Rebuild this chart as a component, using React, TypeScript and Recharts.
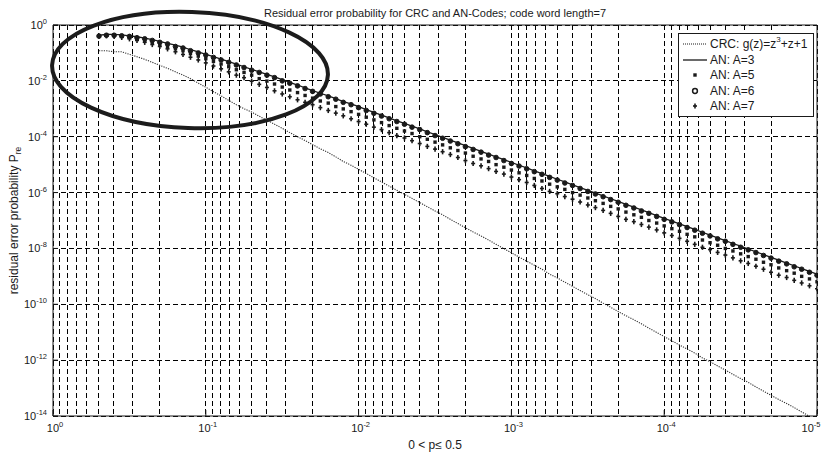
import React from "react";
import {
  LineChart,
  Line,
  XAxis,
  YAxis,
  CartesianGrid,
  ReferenceLine,
  Legend,
  Label,
  Customized,
} from "recharts";

const FONT = '"Liberation Sans", Arial, Helvetica, sans-serif';
const INK = "#1a1a1a";

// bit error probability p (x axis, sampled evenly on the log axis)
const pValues = [
  0.5, 0.447, 0.398, 0.355, 0.316, 0.282, 0.251, 0.224, 0.2, 0.178, 0.158, 0.141, 0.126, 0.112,
  0.1, 0.0891, 0.0794, 0.0708, 0.0631, 0.0562, 0.0501, 0.0447, 0.0398, 0.0355, 0.0316, 0.0282, 0.0251, 0.0224, 0.02, 0.0178, 0.0158, 0.0141, 0.0126, 0.0112,
  0.01, 0.00891, 0.00794, 0.00708, 0.00631, 0.00562, 0.00501, 0.00447, 0.00398, 0.00355, 0.00316, 0.00282, 0.00251, 0.00224, 0.002, 0.00178, 0.00158, 0.00141, 0.00126, 0.00112,
  1e-3, 8.91e-4, 7.94e-4, 7.08e-4, 6.31e-4, 5.62e-4, 5.01e-4, 4.47e-4, 3.98e-4, 3.55e-4, 3.16e-4, 2.82e-4, 2.51e-4, 2.24e-4, 2e-4, 1.78e-4, 1.58e-4, 1.41e-4, 1.26e-4, 1.12e-4,
  1e-4, 8.91e-5, 7.94e-5, 7.08e-5, 6.31e-5, 5.62e-5, 5.01e-5, 4.47e-5, 3.98e-5, 3.55e-5, 3.16e-5, 2.82e-5, 2.51e-5, 2.24e-5, 2e-5, 1.78e-5, 1.58e-5, 1.41e-5, 1.26e-5, 1.12e-5,
  1e-5,
];

// CRC g(z)=z^3+z+1
const crcValues = [
  0.12, 0.12, 0.11, 0.11, 8.9e-2, 7.3e-2, 5.9e-2, 4.6e-2, 3.6e-2, 2.8e-2, 2.1e-2, 1.6e-2, 1.2e-2, 8.3e-3,
  5.9e-3, 4.1e-3, 2.9e-3, 2.0e-3, 1.4e-3, 1.0e-3, 7.6e-4, 5.4e-4, 3.9e-4, 2.8e-4, 2.0e-4, 1.4e-4, 1.0e-4, 7.3e-5, 5.2e-5, 3.7e-5, 2.7e-5, 1.9e-5, 1.3e-5, 9.5e-6,
  6.8e-6, 4.8e-6, 3.4e-6, 2.4e-6, 1.7e-6, 1.2e-6, 8.7e-7, 6.2e-7, 4.4e-7, 3.1e-7, 2.2e-7, 1.6e-7, 1.1e-7, 7.8e-8, 5.5e-8, 3.9e-8, 2.8e-8, 2.0e-8, 1.4e-8, 9.8e-9,
  7.0e-9, 4.9e-9, 3.5e-9, 2.5e-9, 1.8e-9, 1.2e-9, 8.8e-10, 6.2e-10, 4.4e-10, 3.1e-10, 2.2e-10, 1.6e-10, 1.1e-10, 7.8e-11, 5.5e-11, 3.9e-11, 2.8e-11, 2.0e-11, 1.4e-11, 9.8e-12,
  7.0e-12, 4.9e-12, 3.5e-12, 2.5e-12, 1.8e-12, 1.2e-12, 8.8e-13, 6.2e-13, 4.4e-13, 3.1e-13, 2.2e-13, 1.6e-13, 1.1e-13, 7.8e-14, 5.5e-14, 3.9e-14, 2.8e-14, 2.0e-14, 1.4e-14, 9.8e-15,
  7.0e-15,
];

// AN: A=3 (solid line)
const anA3 = [
  0.43, 0.46, 0.46, 0.44, 0.41, 0.38, 0.34, 0.30, 0.26, 0.22, 0.19, 0.16, 0.13, 0.11,
  8.9e-2, 7.4e-2, 6.0e-2, 4.9e-2, 4.0e-2, 3.2e-2, 2.6e-2, 2.1e-2, 1.7e-2, 1.4e-2, 1.1e-2, 8.8e-3, 7.1e-3, 5.6e-3, 4.5e-3, 3.6e-3, 2.9e-3, 2.3e-3, 1.8e-3, 1.5e-3,
  1.2e-3, 9.3e-4, 7.4e-4, 5.9e-4, 4.7e-4, 3.7e-4, 3.0e-4, 2.4e-4, 1.9e-4, 1.5e-4, 1.2e-4, 9.5e-5, 7.5e-5, 6.0e-5, 4.8e-5, 3.8e-5, 3.0e-5, 2.4e-5, 1.9e-5, 1.5e-5,
  1.2e-5, 9.5e-6, 7.6e-6, 6.0e-6, 4.8e-6, 3.8e-6, 3.0e-6, 2.4e-6, 1.9e-6, 1.5e-6, 1.2e-6, 9.5e-7, 7.6e-7, 6.0e-7, 4.8e-7, 3.8e-7, 3.0e-7, 2.4e-7, 1.9e-7, 1.5e-7,
  1.2e-7, 9.5e-8, 7.6e-8, 6.0e-8, 4.8e-8, 3.8e-8, 3.0e-8, 2.4e-8, 1.9e-8, 1.5e-8, 1.2e-8, 9.5e-9, 7.6e-9, 6.0e-9, 4.8e-9, 3.8e-9, 3.0e-9, 2.4e-9, 1.9e-9, 1.5e-9,
  1.2e-9,
];

// AN: A=5 (squares)
const anA5 = [
  0.41, 0.43, 0.42, 0.40, 0.36, 0.32, 0.28, 0.24, 0.20, 0.17, 0.14, 0.12, 9.5e-2, 7.7e-2,
  6.2e-2, 5.0e-2, 4.0e-2, 3.2e-2, 2.5e-2, 2.0e-2, 1.6e-2, 1.2e-2, 9.8e-3, 7.7e-3, 6.0e-3, 4.7e-3, 3.8e-3, 3.0e-3, 2.4e-3, 1.9e-3, 1.6e-3, 1.2e-3, 9.9e-4, 7.9e-4,
  6.3e-4, 5.0e-4, 4.0e-4, 3.2e-4, 2.5e-4, 2.0e-4, 1.6e-4, 1.3e-4, 1.0e-4, 8.1e-5, 6.4e-5, 5.1e-5, 4.0e-5, 3.2e-5, 2.6e-5, 2.0e-5, 1.6e-5, 1.3e-5, 1.0e-5, 8.1e-6,
  6.4e-6, 5.1e-6, 4.1e-6, 3.2e-6, 2.6e-6, 2.0e-6, 1.6e-6, 1.3e-6, 1.0e-6, 8.1e-7, 6.4e-7, 5.1e-7, 4.1e-7, 3.2e-7, 2.6e-7, 2.0e-7, 1.6e-7, 1.3e-7, 1.0e-7, 8.1e-8,
  6.4e-8, 5.1e-8, 4.1e-8, 3.2e-8, 2.6e-8, 2.0e-8, 1.6e-8, 1.3e-8, 1.0e-8, 8.1e-9, 6.4e-9, 5.1e-9, 4.1e-9, 3.2e-9, 2.6e-9, 2.0e-9, 1.6e-9, 1.3e-9, 1.0e-9, 8.1e-10,
  6.4e-10,
];

// AN: A=6 (circles)
const anA6 = [
  0.40, 0.43, 0.43, 0.41, 0.39, 0.35, 0.32, 0.28, 0.24, 0.21, 0.17, 0.15, 0.12, 0.10,
  8.4e-2, 6.9e-2, 5.6e-2, 4.6e-2, 3.7e-2, 3.0e-2, 2.4e-2, 2.0e-2, 1.6e-2, 1.3e-2, 1.0e-2, 8.2e-3, 6.6e-3, 5.3e-3, 4.2e-3, 3.4e-3, 2.7e-3, 2.2e-3, 1.7e-3, 1.4e-3,
  1.1e-3, 8.7e-4, 6.9e-4, 5.5e-4, 4.4e-4, 3.5e-4, 2.8e-4, 2.2e-4, 1.8e-4, 1.4e-4, 1.1e-4, 8.8e-5, 7.0e-5, 5.6e-5, 4.4e-5, 3.5e-5, 2.8e-5, 2.2e-5, 1.8e-5, 1.4e-5,
  1.1e-5, 8.9e-6, 7.1e-6, 5.6e-6, 4.5e-6, 3.5e-6, 2.8e-6, 2.2e-6, 1.8e-6, 1.4e-6, 1.1e-6, 8.9e-7, 7.1e-7, 5.6e-7, 4.5e-7, 3.5e-7, 2.8e-7, 2.2e-7, 1.8e-7, 1.4e-7,
  1.1e-7, 8.9e-8, 7.1e-8, 5.6e-8, 4.5e-8, 3.5e-8, 2.8e-8, 2.2e-8, 1.8e-8, 1.4e-8, 1.1e-8, 8.9e-9, 7.1e-9, 5.6e-9, 4.5e-9, 3.5e-9, 2.8e-9, 2.2e-9, 1.8e-9, 1.4e-9,
  1.1e-9,
];

// AN: A=7 (plus)
const anA7 = [
  0.40, 0.41, 0.39, 0.36, 0.32, 0.28, 0.24, 0.20, 0.17, 0.14, 0.11, 8.8e-2, 7.0e-2, 5.6e-2,
  4.4e-2, 3.4e-2, 2.7e-2, 2.1e-2, 1.6e-2, 1.3e-2, 9.7e-3, 7.5e-3, 5.8e-3, 4.4e-3, 3.4e-3, 2.7e-3, 2.1e-3, 1.7e-3, 1.4e-3, 1.1e-3, 8.7e-4, 7.0e-4, 5.6e-4, 4.4e-4,
  3.5e-4, 2.8e-4, 2.2e-4, 1.8e-4, 1.4e-4, 1.1e-4, 9.0e-5, 7.2e-5, 5.7e-5, 4.5e-5, 3.6e-5, 2.9e-5, 2.3e-5, 1.8e-5, 1.4e-5, 1.1e-5, 9.1e-6, 7.2e-6, 5.7e-6, 4.6e-6,
  3.6e-6, 2.9e-6, 2.3e-6, 1.8e-6, 1.4e-6, 1.1e-6, 9.1e-7, 7.2e-7, 5.8e-7, 4.6e-7, 3.6e-7, 2.9e-7, 2.3e-7, 1.8e-7, 1.4e-7, 1.1e-7, 9.1e-8, 7.2e-8, 5.8e-8, 4.6e-8,
  3.6e-8, 2.9e-8, 2.3e-8, 1.8e-8, 1.4e-8, 1.1e-8, 9.1e-9, 7.2e-9, 5.8e-9, 4.6e-9, 3.6e-9, 2.9e-9, 2.3e-9, 1.8e-9, 1.4e-9, 1.1e-9, 9.1e-10, 7.2e-10, 5.8e-10, 4.6e-10,
  3.6e-10,
];

// x grid: every 1..9 x 10^k between 1 and 1e-5
const xGridTicks = [
  1, 0.9, 0.8, 0.7, 0.6, 0.5, 0.4, 0.3, 0.2,
  0.1, 0.09, 0.08, 0.07, 0.06, 0.05, 0.04, 0.03, 0.02,
  0.01, 0.009, 0.008, 0.007, 0.006, 0.005, 0.004, 0.003, 0.002,
  1e-3, 9e-4, 8e-4, 7e-4, 6e-4, 5e-4, 4e-4, 3e-4, 2e-4,
  1e-4, 9e-5, 8e-5, 7e-5, 6e-5, 5e-5, 4e-5, 3e-5, 2e-5,
  1e-5,
];
const xMajorTicks = [1, 0.1, 0.01, 1e-3, 1e-4, 1e-5];
const xMajorLabels = ["0", "-1", "-2", "-3", "-4", "-5"];

const yTicks = [1, 1e-2, 1e-4, 1e-6, 1e-8, 1e-10, 1e-12, 1e-14];
const yTickLabels = ["0", "-2", "-4", "-6", "-8", "-10", "-12", "-14"];

const tableData = pValues.map((p, i) => ({
  p,
  crc: crcValues[i],
  a3: anA3[i],
  a5: anA5[i],
  a6: anA6[i],
  a7: anA7[i],
}));

const majorIndex = (v: number) =>
  xMajorTicks.findIndex((m) => Math.abs(v - m) < m * 1e-6);

function XTick(props: any) {
  const { x, y, payload } = props;
  const idx = majorIndex(payload.value);
  if (idx < 0) return <g />;
  // last label sits on the right edge; nudge it so it stays inside the page
  const shift = idx === xMajorTicks.length - 1 ? -6 : 2;
  return (
    <g>
      <line x1={x} x2={x} y1={y - 2} y2={y - 8} stroke={INK} strokeWidth={1} />
      <text x={x + shift} y={y + 14} textAnchor="middle" fontFamily={FONT} fontSize={11} fill={INK}>
        10
        <tspan dy={-5} fontSize={7.5}>
          {xMajorLabels[idx]}
        </tspan>
      </text>
    </g>
  );
}

function YTick(props: any) {
  const { x, y, payload } = props;
  const idx = yTicks.findIndex((t) => Math.abs(payload.value - t) < t * 1e-6);
  if (idx < 0) return <g />;
  return (
    <g>
      <line x1={x + 6} x2={x + 11} y1={y} y2={y} stroke={INK} strokeWidth={1} />
      <text x={x} y={y + 4} textAnchor="end" fontFamily={FONT} fontSize={11} fill={INK}>
        10
        <tspan dy={-5} fontSize={7.5}>
          {yTickLabels[idx]}
        </tspan>
      </text>
    </g>
  );
}

function SquareDot(props: any) {
  const { cx, cy } = props;
  if (cx == null || cy == null) return <g />;
  return <rect x={cx - 1.7} y={cy - 1.7} width={3.4} height={3.4} fill={INK} />;
}

function CircleDot(props: any) {
  const { cx, cy } = props;
  if (cx == null || cy == null) return <g />;
  return <circle cx={cx} cy={cy} r={2.3} fill={INK} stroke={INK} strokeWidth={1} />;
}

function PlusDot(props: any) {
  const { cx, cy } = props;
  if (cx == null || cy == null) return <g />;
  return (
    <g stroke={INK} strokeWidth={1.6}>
      <line x1={cx - 2} x2={cx + 2} y1={cy} y2={cy} />
      <line x1={cx} x2={cx} y1={cy - 2.6} y2={cy + 2.6} />
    </g>
  );
}

const legendRows = [
  { key: "crc", label: "CRC" },
  { key: "a3", label: "AN: A=3" },
  { key: "a5", label: "AN: A=5" },
  { key: "a6", label: "AN: A=6" },
  { key: "a7", label: "AN: A=7" },
];

function LegendSample({ kind }: { kind: string }) {
  return (
    <svg width={26} height={14} style={{ display: "block" }}>
      {kind === "crc" && (
        <line x1={1} x2={25} y1={7} y2={7} stroke={INK} strokeWidth={1.2} strokeDasharray="1 1" />
      )}
      {kind === "a3" && <line x1={1} x2={25} y1={7} y2={7} stroke={INK} strokeWidth={1.3} />}
      {kind === "a5" && <rect x={11.3} y={5.3} width={3.4} height={3.4} fill={INK} />}
      {kind === "a6" && <circle cx={13} cy={7} r={2.4} fill="none" stroke={INK} strokeWidth={1.5} />}
      {kind === "a7" && (
        <g stroke={INK} strokeWidth={1.6}>
          <line x1={11} x2={15} y1={7} y2={7} />
          <line x1={13} x2={13} y1={4.4} y2={9.6} />
        </g>
      )}
    </svg>
  );
}

function LegendBox() {
  return (
    <div
      style={{
        position: "relative",
        width: 136,
        height: 84,
        boxSizing: "border-box",
        border: `1px solid ${INK}`,
        background: "#fff",
        fontFamily: FONT,
        fontSize: 12,
        color: INK,
      }}
    >
      {legendRows.map((r, i) => (
        <div
          key={r.key}
          style={{
            position: "absolute",
            left: 3,
            top: 2 + i * 15.6,
            height: 16,
            display: "flex",
            alignItems: "center",
            whiteSpace: "nowrap",
          }}
        >
          <LegendSample kind={r.key} />
          <span style={{ marginLeft: 2 }}>
            {r.key === "crc" ? (
              <>
                CRC: g(z)=z<sup style={{ fontSize: 8, verticalAlign: "6px", lineHeight: 0 }}>3</sup>+z+1
              </>
            ) : (
              r.label
            )}
          </span>
        </div>
      ))}
    </div>
  );
}

function Annotations() {
  return (
    <g>
      <text x={435} y={17} textAnchor="middle" fontFamily={FONT} fontSize={11} fill={INK}>
        Residual error probability for CRC and AN-Codes; code word length=7
      </text>
      <ellipse
        cx={190}
        cy={70}
        rx={138}
        ry={58}
        transform="rotate(2 190 70)"
        fill="none"
        stroke="#1c1c1c"
        strokeWidth={4}
      />
    </g>
  );
}

function YLabel(props: any) {
  const { viewBox } = props;
  const cx = viewBox.x + 6;
  const cy = viewBox.y + viewBox.height / 2;
  return (
    <text
      x={cx}
      y={cy}
      transform={`rotate(-90 ${cx} ${cy})`}
      textAnchor="middle"
      dominantBaseline="central"
      fontFamily={FONT}
      fontSize={12}
      fill={INK}
    >
      residual error probability P
      <tspan dy={4} fontSize={8.5}>
        re
      </tspan>
    </text>
  );
}

function XLabel(props: any) {
  const { viewBox } = props;
  return (
    <text
      x={viewBox.x + viewBox.width / 2}
      y={449}
      textAnchor="middle"
      fontFamily={FONT}
      fontSize={12}
      fill={INK}
    >
      0 &lt; p≤ 0.5
    </text>
  );
}

export default function App() {
  return (
    <div style={{ position: "absolute", left: 0, top: 0, width: 825, height: 452, background: "#fff" }}>
      <LineChart
        width={825}
        height={452}
        data={tableData}
        margin={{ top: 25, right: 8, bottom: 12, left: 8 }}
      >
        <CartesianGrid stroke="#000" strokeWidth={1} strokeDasharray="5 3" shapeRendering="crispEdges" />
        <XAxis
          dataKey="p"
          type="number"
          scale="log"
          domain={[1e-5, 1]}
          reversed
          allowDataOverflow
          ticks={xGridTicks}
          interval={0}
          tick={<XTick />}
          tickLine={false}
          tickSize={0}
          tickMargin={2}
          height={24}
          axisLine={{ stroke: INK, strokeWidth: 1 }}
        >
          <Label content={<XLabel />} />
        </XAxis>
        <YAxis
          type="number"
          scale="log"
          domain={[1e-14, 1]}
          allowDataOverflow
          ticks={yTicks}
          interval={0}
          tick={<YTick />}
          tickLine={false}
          tickSize={0}
          tickMargin={6}
          width={45}
          axisLine={{ stroke: INK, strokeWidth: 1 }}
        >
          <Label content={<YLabel />} />
        </YAxis>
        <ReferenceLine y={1} stroke={INK} strokeWidth={1} />
        <ReferenceLine x={1e-5} stroke={INK} strokeWidth={1} />
        <Line
          dataKey="crc"
          stroke="#333"
          strokeWidth={1.1}
          strokeDasharray="1.2 1.2"
          dot={false}
          activeDot={false}
          isAnimationActive={false}
        />
        <Line dataKey="a7" stroke="none" dot={<PlusDot />} activeDot={false} isAnimationActive={false} />
        <Line dataKey="a5" stroke="none" dot={<SquareDot />} activeDot={false} isAnimationActive={false} />
        <Line dataKey="a3" stroke={INK} strokeWidth={1.3} dot={false} activeDot={false} isAnimationActive={false} />
        <Line dataKey="a6" stroke="none" dot={<CircleDot />} activeDot={false} isAnimationActive={false} />
        <Legend
          layout="vertical"
          align="center"
          verticalAlign="middle"
          wrapperStyle={{ left: 678, top: 33, width: 136, height: 84 }}
          content={() => <LegendBox />}
        />
        <Customized component={<Annotations />} />
      </LineChart>
    </div>
  );
}
